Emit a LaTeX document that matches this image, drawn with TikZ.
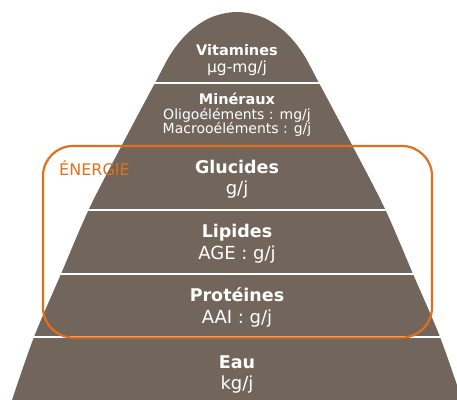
\documentclass[tikz,border=0pt]{standalone}
\usepackage{fontspec}
\setmainfont{DejaVu Sans}
\usepackage{tikz}
\usetikzlibrary{positioning}

\definecolor{pyrbrown}{RGB}{114,102,92}
\definecolor{nrjorange}{RGB}{224,112,28}

\tikzset{
  bandtitle/.style={anchor=base, text=white, font=\bfseries\fontsize{17.5}{20}\selectfont, inner sep=0pt},
  bandunit/.style={anchor=base, text=white, font=\fontsize{18}{20}\selectfont, inner sep=0pt},
  toptitle/.style={anchor=base, text=white, font=\bfseries\fontsize{14.5}{17}\selectfont, inner sep=0pt},
  topunit/.style={anchor=base, text=white, font=\fontsize{15.5}{17}\selectfont, inner sep=0pt},
  tinyunit/.style={anchor=base, text=white, font=\fontsize{14}{15}\selectfont, inner sep=0pt}
}

\begin{document}
\begin{tikzpicture}[x=1pt,y=-1pt]
            \useasboundingbox (0,0) rectangle (457,399);
            \clip (0,0) rectangle (457,399);

            % pyramid outline
            \fill[pyrbrown] plot[smooth, tension=0.55] coordinates {
                (12,400) (34,337) (61,274) (89,209) (122,145) (155,83)
                (172,52) (190,31) (212,17) (237,12) (262,17) (284,31)
                (302,52) (319,83) (352,145) (385,209) (413,274) (440,337) (462,400)
            } -- cycle;

            % white separators between levels
            \foreach \y in {83,146,210,274,337}{
                \draw[white, line width=2pt] (0,\y) -- (457,\y);
            }

            % energy box
            \draw[nrjorange, line width=2.2pt, rounded corners=30pt] (43,146) rectangle (432,337.5);
            \node[anchor=base west, inner sep=0pt, text=nrjorange, font=\fontsize{16}{18}\selectfont] (nrj) at (59,175) {ÉNERGIE};

            \node[toptitle] (vit) at (237,55) {Vitamines};
            \node[topunit] (vitunit) at (237,72.5) {µg-mg/j};

            \node[toptitle] (min) at (237,104) {Minéraux};
            \node[tinyunit] (oligo) at (237,119) {Oligoéléments : mg/j};
            \node[tinyunit] (macro) at (237,133.5) {Macrooéléments : g/j};

            \node[bandtitle] (glu) at (237,173) {Glucides};
            \node[bandunit] (gluunit) at (237,194.5) {g/j};

            \node[bandtitle] (lip) at (237,237.5) {Lipides};
            \node[bandunit] (lipunit) at (237,259.5) {AGE : g/j};

            \node[bandtitle] (pro) at (237,301.5) {Protéines};
            \node[bandunit] (prounit) at (237,323.5) {AAI : g/j};

            \node[bandtitle] (eau) at (237,368) {Eau};
            \node[bandunit] (eauunit) at (237,389) {kg/j};
        \end{tikzpicture}
\end{document}
